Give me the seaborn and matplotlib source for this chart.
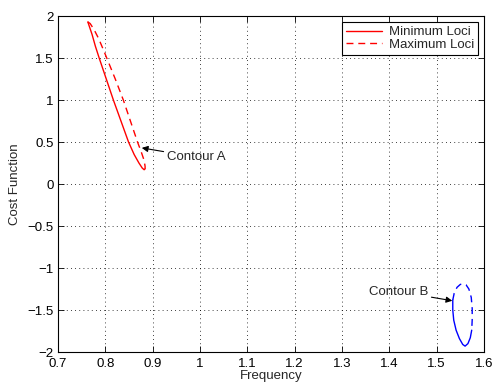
import numpy as np
import matplotlib
matplotlib.use("Agg")
import matplotlib.pyplot as plt
import seaborn as sns
import pandas as pd

# contour A (red)
a_min_x = [0.763, 0.766, 0.772, 0.779, 0.787, 0.802, 0.817, 0.833, 0.849, 0.861, 0.871, 0.878, 0.882, 0.884]
a_min_y = [1.93, 1.88, 1.78, 1.64, 1.50, 1.25, 1.00, 0.75, 0.50, 0.35, 0.25, 0.19, 0.17, 0.18]
a_max_x = [0.763, 0.768, 0.776, 0.786, 0.795, 0.803, 0.821, 0.838, 0.853, 0.868, 0.876, 0.882, 0.884, 0.884]
a_max_y = [1.93, 1.91, 1.84, 1.73, 1.61, 1.50, 1.25, 1.00, 0.75, 0.50, 0.38, 0.28, 0.21, 0.18]

# contour B (blue)
b_min_x = [1.534, 1.534, 1.536, 1.541, 1.548, 1.555, 1.560, 1.566, 1.571, 1.574]
b_min_y = [-1.38, -1.50, -1.62, -1.74, -1.84, -1.91, -1.93, -1.90, -1.83, -1.74]
b_max_x = [1.534, 1.537, 1.543, 1.550, 1.556, 1.562, 1.568, 1.573, 1.575, 1.575, 1.574]
b_max_y = [-1.38, -1.30, -1.23, -1.195, -1.19, -1.20, -1.25, -1.35, -1.48, -1.62, -1.74]

x_ticks = [0.7, 0.8, 0.9, 1.0, 1.1, 1.2, 1.3, 1.4, 1.5, 1.6]
x_labels = ["0.7", "0.8", "0.9", "1", "1.1", "1.2", "1.3", "1.4", "1.5", "1.6"]
y_ticks = [-2, -1.5, -1, -0.5, 0, 0.5, 1, 1.5, 2]
y_labels = ["\u22122", "\u22121.5", "\u22121", "\u22120.5", "0", "0.5", "1", "1.5", "2"]

fs = 9.5

sns.set_style("ticks")
plt.rcParams["font.family"] = ["Liberation Sans", "DejaVu Sans"]
plt.rcParams["font.size"] = fs

fig = plt.figure(figsize=(4.94, 3.85), dpi=100)
ax = fig.add_axes([0.1174, 0.0857, 0.8624, 0.8727])

dash = (0, (5, 3.5))
curves = [
    (a_min_x, a_min_y, "red", "-", "Minimum Loci"),
    (a_max_x, a_max_y, "red", dash, "Maximum Loci"),
    (b_min_x, b_min_y, "blue", "-", None),
    (b_max_x, b_max_y, "blue", dash, None),
]
for xs, ys, col, ls, lab in curves:
    df = pd.DataFrame({"x": xs, "y": ys})
    sns.lineplot(data=df, x="x", y="y", sort=False, estimator=None, color=col,
                 linestyle=ls, linewidth=1.0, label=lab, ax=ax, legend=False)

ax.set_xlim(0.7, 1.6)
ax.set_ylim(-2, 2)
ax.set_xticks(x_ticks)
ax.set_xticklabels(x_labels)
ax.set_yticks(y_ticks)
ax.set_yticklabels(y_labels)
ax.tick_params(direction="in", length=4, width=0.6, top=True, right=True, labelsize=fs, colors="black")
ax.tick_params(axis="x", pad=4)
ax.tick_params(axis="y", pad=3)
ax.grid(True, color="black", linestyle=(0, (1, 4)), linewidth=0.6)
for s in ax.spines.values():
    s.set_visible(True)
    s.set_color("black")
    s.set_linewidth(0.8)

ax.set_xlabel("Frequency", fontsize=fs, labelpad=0)
ax.set_ylabel("Cost Function", fontsize=fs, labelpad=5)

ax.annotate("Contour A", xy=(0.877, 0.43), xytext=(0.93, 0.32), ha="left", va="center",
            fontsize=fs, arrowprops=dict(arrowstyle="-|>", color="black", lw=0.8,
                                         mutation_scale=9, shrinkA=0, shrinkB=0))
ax.annotate("Contour B", xy=(1.533, -1.39), xytext=(1.482, -1.28), ha="right", va="center",
            fontsize=fs, arrowprops=dict(arrowstyle="-|>", color="black", lw=0.8,
                                         mutation_scale=9, shrinkA=0, shrinkB=0))

leg = ax.legend(loc="upper right", fontsize=fs, fancybox=False, framealpha=1,
                edgecolor="black", borderaxespad=0.45, handlelength=2.75,
                labelspacing=0.05, borderpad=0.3, handletextpad=0.5)
leg.get_frame().set_linewidth(0.8)

fig.savefig("out.png", dpi=100)
